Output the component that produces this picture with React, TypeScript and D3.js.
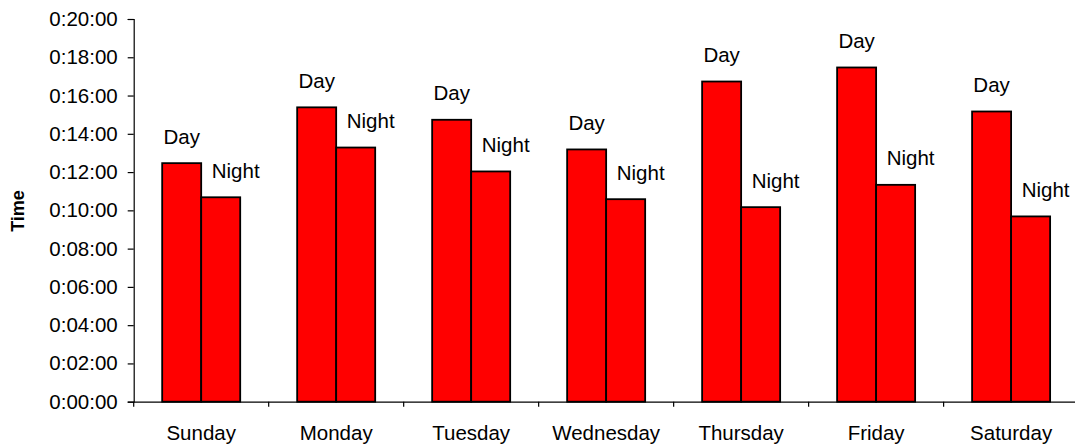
import React, { useRef, useEffect } from 'react';
import * as d3 from 'd3';

// Chart data
const days = ['Sunday', 'Monday', 'Tuesday', 'Wednesday', 'Thursday', 'Friday', 'Saturday'];
const series = ['Day', 'Night'];
const dayTimes = ['0:12:28', '0:15:23', '0:14:44', '0:13:11', '0:16:44', '0:17:28', '0:15:10'];
const nightTimes = ['0:10:41', '0:13:17', '0:12:02', '0:10:35', '0:10:10', '0:11:20', '0:09:41'];
const yTicks = [0, 2, 4, 6, 8, 10, 12, 14, 16, 18, 20];

// "h:mm:ss" -> minutes
const toMinutes = (s: string) => {
  const [h, m, sec] = s.split(':').map(Number);
  return h * 60 + m + sec / 60;
};

const App: React.FC = () => {
  const svgRef = useRef<SVGSVGElement>(null);
  const width = 1075;
  const height = 447;

  useEffect(() => {
    if (!svgRef.current) return;
    const svg = d3.select(svgRef.current);
    svg.selectAll('*').remove();

    const left = 133.7;
    const right = 1078.6;
    const top = 19;
    const bottom = 401.7;
    const font = 'Liberation Sans, Arial, sans-serif';

    const rows = days.map((d, i) => ({
      day: d,
      values: [
        { key: 'Day', value: toMinutes(dayTimes[i]) },
        { key: 'Night', value: toMinutes(nightTimes[i]) },
      ],
    }));

    const x0 = d3.scaleBand<string>().domain(days).range([left, right]).padding(0);
    const x1 = d3.scaleBand<string>()
      .domain(series)
      .range([0, x0.bandwidth()])
      .paddingInner(0)
      .paddingOuter(0.73);
    const y = d3.scaleLinear().domain([0, 20]).range([bottom, top]);

    // Bars
    const groups = svg.append('g')
      .selectAll('g')
      .data(rows)
      .join('g')
      .attr('transform', d => `translate(${x0(d.day)},0)`);

    groups.selectAll('rect')
      .data(d => d.values)
      .join('rect')
      .attr('x', d => x1(d.key)!)
      .attr('y', d => y(d.value))
      .attr('width', x1.bandwidth())
      .attr('height', d => bottom - y(d.value))
      .attr('fill', '#ff0000')
      .attr('stroke', '#000')
      .attr('stroke-width', 1.8);

    // Series labels above the bars
    groups.selectAll('text')
      .data(d => d.values)
      .join('text')
      .attr('x', d => x1(d.key)! + x1.bandwidth() / 2 + (d.key === 'Night' ? 15 : 0))
      .attr('y', d => y(d.value) - 19.5)
      .attr('text-anchor', 'middle')
      .attr('font-family', font)
      .attr('font-size', '20.5px')
      .attr('fill', '#000')
      .text(d => d.key);

    // Y axis
    const yAxis = svg.append('g')
      .attr('transform', `translate(${left},0)`)
      .call(
        d3.axisLeft(y)
          .tickValues(yTicks)
          .tickSize(6)
          .tickPadding(10)
          .tickFormat(d => `0:${String(d).padStart(2, '0')}:00`)
      );
    yAxis.select('.domain').attr('stroke', '#000').attr('stroke-width', 1.2);
    yAxis.selectAll('.tick line').attr('stroke', '#000').attr('stroke-width', 1.2);
    yAxis.selectAll('.tick text')
      .attr('font-family', font)
      .attr('font-size', '20.5px')
      .attr('fill', '#000');

    // X axis
    const xAxis = svg.append('g')
      .attr('transform', `translate(0,${bottom})`)
      .call(d3.axisBottom(x0).tickSize(0).tickPadding(24).tickSizeOuter(0));
    xAxis.select('.domain').attr('stroke', '#000').attr('stroke-width', 1.2);
    xAxis.selectAll('.tick text')
      .attr('font-family', font)
      .attr('font-size', '20.5px')
      .attr('fill', '#000');

    // Category separator ticks
    svg.append('g')
      .selectAll('line')
      .data(days)
      .join('line')
      .attr('x1', d => x0(d)!)
      .attr('x2', d => x0(d)!)
      .attr('y1', bottom)
      .attr('y2', bottom + 5)
      .attr('stroke', '#000')
      .attr('stroke-width', 1.2);

    // Axis title
    svg.append('text')
      .attr('transform', 'translate(24,211) rotate(-90)')
      .attr('text-anchor', 'middle')
      .attr('font-family', font)
      .attr('font-size', '18px')
      .attr('font-weight', 'bold')
      .attr('fill', '#000')
      .text('Time');
  }, []);

  return (
    <div style={{ position: 'absolute', left: 0, top: 0 }}>
      <svg ref={svgRef} width={width} height={height} style={{ display: 'block', background: '#fff' }} />
    </div>
  );
};

export default App;
